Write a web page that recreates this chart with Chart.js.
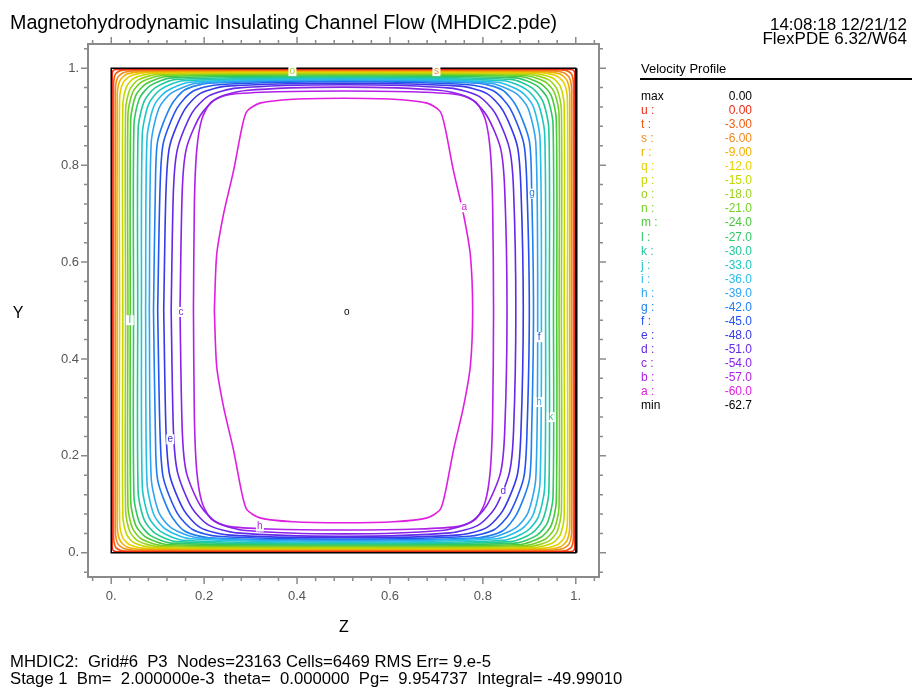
<!DOCTYPE html>
<html>
<head>
<meta charset="utf-8">
<script src="https://cdn.jsdelivr.net/npm/chart.js@4.4.1/dist/chart.umd.min.js"></script>
<style>
  html, body { margin: 0; padding: 0; background: #fff; }
  #wrap { width: 912px; height: 687px; }
</style>
</head>
<body>
<div id="wrap"><canvas id="plot" width="912" height="687"></canvas></div>
<script>
// contour levels (legend order, top to bottom)
const levelNames  = ["u", "t", "s", "r", "q", "p", "o", "n", "m", "l", "k", "j", "i", "h", "g", "f", "e", "d", "c", "b", "a"];
const levelValues = ["0.00", "-3.00", "-6.00", "-9.00", "-12.0", "-15.0", "-18.0", "-21.0", "-24.0", "-27.0", "-30.0",
                     "-33.0", "-36.0", "-39.0", "-42.0", "-45.0", "-48.0", "-51.0", "-54.0", "-57.0", "-60.0"];
const levelColors = ["#ec2a14", "#f05a10", "#f08a1c", "#f0b000", "#e6d000", "#c4d800", "#9cd21c", "#74d024",
                     "#4cc83c", "#2ec866", "#22c89a", "#20c6c2", "#28bce8", "#30a4f0", "#2080f0", "#2454f0",
                     "#3a38e8", "#6428e8", "#8a22e8", "#b020e8", "#e01ee0"];
const maxValue = "0.00";
const minValue = "-62.7";

// top-left quarter of each contour [z, y], from mid-side up to mid-top
const quarterU = [[0.002, 0.5], [0.002, 0.985], [0.005, 0.996], [0.02, 0.998], [0.5, 0.998]];
const quarterT = [[0.005, 0.5], [0.005, 0.965], [0.009, 0.988], [0.02, 0.995], [0.05, 0.997], [0.5, 0.997]];
const quarterS = [[0.009, 0.5], [0.009, 0.955], [0.014, 0.981], [0.027, 0.991], [0.06, 0.995], [0.5, 0.996]];
const quarterR = [[0.013, 0.5], [0.013, 0.945], [0.019, 0.975], [0.034, 0.988], [0.07, 0.993], [0.5, 0.994]];
const quarterQ = [[0.018, 0.5], [0.018, 0.935], [0.025, 0.969], [0.041, 0.984], [0.08, 0.991], [0.5, 0.993]];
const quarterP = [[0.025, 0.5], [0.025, 0.925], [0.033, 0.962], [0.050, 0.980], [0.09, 0.989], [0.5, 0.991]];
const quarterO = [[0.031, 0.5], [0.031, 0.915], [0.040, 0.956], [0.058, 0.976], [0.10, 0.987], [0.5, 0.989]];
const quarterN = [[0.036, 0.5], [0.036, 0.905], [0.046, 0.950], [0.066, 0.972], [0.11, 0.985], [0.5, 0.988]];
const quarterM = [[0.041, 0.5], [0.042, 0.895], [0.053, 0.944], [0.075, 0.968], [0.12, 0.983], [0.5, 0.986]];
const quarterL = [[0.048, 0.5], [0.049, 0.885], [0.061, 0.938], [0.084, 0.964], [0.13, 0.980], [0.5, 0.984]];
const quarterK = [[0.057, 0.5], [0.058, 0.875], [0.071, 0.932], [0.095, 0.960], [0.14, 0.977], [0.5, 0.982]];
const quarterJ = [[0.065, 0.5], [0.067, 0.865], [0.081, 0.927], [0.106, 0.956], [0.155, 0.974], [0.5, 0.980]];
const quarterI = [[0.074, 0.5], [0.077, 0.855], [0.092, 0.922], [0.118, 0.952], [0.17, 0.971], [0.5, 0.978]];
const quarterH = [[0.082, 0.5], [0.086, 0.845], [0.103, 0.918], [0.130, 0.949], [0.185, 0.969], [0.5, 0.976]];
const quarterG = [[0.091, 0.5], [0.095, 0.75], [0.100, 0.850], [0.128, 0.922], [0.158, 0.955], [0.21, 0.969], [0.5, 0.974]];
const quarterF = [[0.100, 0.5], [0.105, 0.75], [0.112, 0.845], [0.142, 0.918], [0.175, 0.952], [0.23, 0.966], [0.5, 0.972]];
const quarterE = [[0.113, 0.5], [0.118, 0.75], [0.126, 0.840], [0.157, 0.913], [0.192, 0.948], [0.25, 0.963], [0.5, 0.969]];
const quarterD = [[0.129, 0.5], [0.134, 0.75], [0.143, 0.835], [0.174, 0.908], [0.210, 0.943], [0.27, 0.959], [0.5, 0.966]];
const quarterC = [[0.148, 0.5], [0.153, 0.75], [0.162, 0.835], [0.192, 0.903], [0.228, 0.938], [0.29, 0.954], [0.5, 0.961]];
const quarterB = [[0.177, 0.5], [0.179, 0.72], [0.184, 0.830], [0.195, 0.895], [0.215, 0.930], [0.25, 0.945], [0.34, 0.951], [0.5, 0.953]];
const quarterA = [[0.222, 0.5], [0.227, 0.615], [0.242, 0.70], [0.263, 0.787], [0.281, 0.876], [0.292, 0.911],
                  [0.320, 0.928], [0.392, 0.936], [0.5, 0.938]];
const quarters = [quarterU, quarterT, quarterS, quarterR, quarterQ, quarterP, quarterO, quarterN, quarterM, quarterL,
                  quarterK, quarterJ, quarterI, quarterH, quarterG, quarterF, quarterE, quarterD, quarterC, quarterB, quarterA];

// contour letters written on the plot
const labelText    = ["a", "c", "o", "e", "h", "d", "g", "h", "k", "f", "o", "s", "l"];
const labelZ       = [0.760, 0.150, 0.507, 0.127, 0.320, 0.844, 0.906, 0.921, 0.946, 0.921, 0.390, 0.700, 0.040];
const labelY       = [0.713, 0.497, 0.497, 0.234, 0.054, 0.126, 0.741, 0.311, 0.280, 0.445, 0.994, 0.994, 0.480];
const labelColorOf = ["a", "c", null, "e", "b", "d", "g", "h", "k", "f", "o", "s", "l"];

const tickValues = [0, 0.2, 0.4, 0.6, 0.8, 1.0];
const tickLabels = ["0.", "0.2", "0.4", "0.6", "0.8", "1."];

// closed loop from the quarter, using the channel's symmetry about z=0.5 and y=0.5
function closeLoop(q) {
    const pts = q.map(p => ({ x: p[0], y: p[1] }));
    const rev = q.slice().reverse();
    rev.slice(1).forEach(p => pts.push({ x: 1 - p[0], y: p[1] }));
    q.slice(1).forEach(p => pts.push({ x: 1 - p[0], y: 1 - p[1] }));
    rev.slice(1).forEach(p => pts.push({ x: p[0], y: 1 - p[1] }));
    return pts;
}

const datasets = quarters.map(function(q, i) {
    return {
        label: levelNames[i],
        data: closeLoop(q),
        showLine: true,
        borderColor: levelColors[i],
        borderWidth: 1.6,
        pointRadius: 0,
        tension: 0.25,
        fill: false
    };
});

const FONT = '"Liberation Sans", Arial, sans-serif';

// frame, domain box, ticks and all the texts
const decorations = {
    id: "decorations",
    beforeDatasetsDraw(chart) {
        const ctx = chart.ctx, x = chart.scales.x, y = chart.scales.y, a = chart.chartArea;
        ctx.save();
        // outer gray frame with ticks on all four sides
        ctx.strokeStyle = "#8a8a8a";
        ctx.lineWidth = 2;
        ctx.strokeRect(a.left, a.top, a.right - a.left, a.bottom - a.top);
        ctx.lineWidth = 1.5;
        for (let k = -1; k <= 26; k++) {
            const v = k * 0.04;
            if (v < -0.05 || v > 1.05) continue;
            const major = k % 5 === 0;
            const len = major ? 7 : 4;
            const px = x.getPixelForValue(v), py = y.getPixelForValue(v);
            ctx.beginPath();
            ctx.moveTo(px, a.bottom); ctx.lineTo(px, a.bottom + len);
            ctx.moveTo(px, a.top); ctx.lineTo(px, a.top - len);
            ctx.moveTo(a.left, py); ctx.lineTo(a.left - len, py);
            ctx.moveTo(a.right, py); ctx.lineTo(a.right + len, py);
            ctx.stroke();
        }
        ctx.fillStyle = "#555";
        ctx.font = "13px " + FONT;
        tickValues.forEach(function(v, i) {
            ctx.textAlign = "center"; ctx.textBaseline = "middle";
            ctx.fillText(tickLabels[i], x.getPixelForValue(v), a.bottom + 19);
            ctx.textAlign = "right";
            ctx.fillText(tickLabels[i], a.left - 9, y.getPixelForValue(v));
        });
        ctx.restore();
    },
    afterDatasetsDraw(chart) {
        const ctx = chart.ctx, x = chart.scales.x, y = chart.scales.y;
        ctx.save();
        // domain boundary
        ctx.strokeStyle = "#000";
        ctx.lineWidth = 1.5;
        ctx.strokeRect(x.getPixelForValue(0), y.getPixelForValue(1),
                       x.getPixelForValue(1) - x.getPixelForValue(0), y.getPixelForValue(0) - y.getPixelForValue(1));
        ctx.lineWidth = 2.5;
        ctx.beginPath();
        ctx.moveTo(x.getPixelForValue(1) + 0.5, y.getPixelForValue(1));
        ctx.lineTo(x.getPixelForValue(1) + 0.5, y.getPixelForValue(0));
        ctx.stroke();
        // letters on the contours
        ctx.font = "10px " + FONT;
        ctx.textAlign = "center"; ctx.textBaseline = "middle";
        labelText.forEach(function(t, i) {
            const px = x.getPixelForValue(labelZ[i]), py = y.getPixelForValue(labelY[i]);
            ctx.fillStyle = "#fff";
            ctx.fillRect(px - 4, py - 5, 8, 10);
            const c = labelColorOf[i];
            ctx.fillStyle = c ? levelColors[levelNames.indexOf(c)] : "#000";
            ctx.fillText(t, px, py);
        });
        ctx.restore();
    },
    afterDraw(chart) {
        const ctx = chart.ctx;
        ctx.save();
        ctx.fillStyle = "#000";
        ctx.textBaseline = "alphabetic";
        ctx.textAlign = "left";
        ctx.font = "19.7px " + FONT;
        ctx.fillText("Magnetohydrodynamic Insulating Channel Flow (MHDIC2.pde)", 10, 29);
        ctx.textAlign = "right";
        ctx.font = "17px " + FONT;
        ctx.fillText("14:08:18 12/21/12", 907, 30);
        ctx.fillText("FlexPDE 6.32/W64", 907, 44);
        // axis names
        ctx.textAlign = "center";
        ctx.font = "16px " + FONT;
        ctx.fillText("Z", 344, 632);
        ctx.fillText("Y", 18, 318);
        // footer
        ctx.textAlign = "left";
        ctx.font = "16.7px " + FONT;
        ctx.fillText("MHDIC2:  Grid#6  P3  Nodes=23163 Cells=6469 RMS Err= 9.e-5", 10, 667);
        ctx.fillText("Stage 1  Bm=  2.000000e-3  theta=  0.000000  Pg=  9.954737  Integral= -49.99010", 10, 684);
        // level legend
        ctx.font = "13px " + FONT;
        ctx.fillText("Velocity Profile", 641, 73);
        ctx.lineWidth = 2;
        ctx.strokeStyle = "#000";
        ctx.beginPath(); ctx.moveTo(640, 79); ctx.lineTo(912, 79); ctx.stroke();
        ctx.font = "12px " + FONT;
        const rowY = r => 100 + r * 14.05;
        ctx.fillStyle = "#000";
        ctx.textAlign = "left"; ctx.fillText("max", 641, rowY(0));
        ctx.textAlign = "right"; ctx.fillText(maxValue, 752, rowY(0));
        levelNames.forEach(function(n, i) {
            ctx.fillStyle = levelColors[i];
            ctx.textAlign = "left"; ctx.fillText(n + " :", 641, rowY(i + 1));
            ctx.textAlign = "right"; ctx.fillText(levelValues[i], 752, rowY(i + 1));
        });
        ctx.fillStyle = "#000";
        ctx.textAlign = "left"; ctx.fillText("min", 641, rowY(22));
        ctx.textAlign = "right"; ctx.fillText(minValue, 752, rowY(22));
        ctx.restore();
    }
};

new Chart(document.getElementById("plot").getContext("2d"), {
    type: "scatter",
    data: { datasets: datasets },
    options: {
        responsive: false,
        animation: false,
        devicePixelRatio: 1,
        layout: { padding: { left: 88, right: 313, top: 44, bottom: 110 } },
        plugins: { legend: { display: false }, tooltip: { enabled: false }, title: { display: false } },
        scales: {
            x: { type: "linear", min: -0.05, max: 1.05, display: false },
            y: { type: "linear", min: -0.05, max: 1.05, display: false }
        }
    },
    plugins: [decorations]
});
</script>
</body>
</html>
